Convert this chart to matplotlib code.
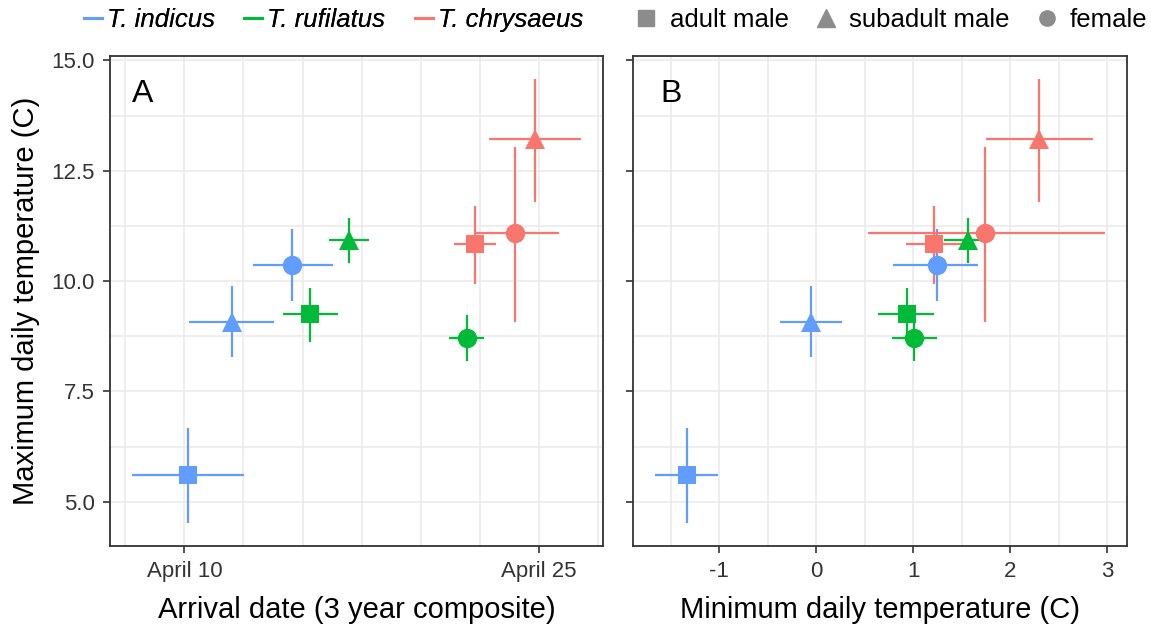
import numpy as np
import matplotlib.pyplot as plt
from matplotlib.lines import Line2D

plt.rcParams['font.family'] = ['Liberation Sans', 'DejaVu Sans']

species = ["T. indicus", "T. rufilatus", "T. chrysaeus"]
species_colors = ["#619CFF", "#00BA38", "#F8766D"]
sexes = ["adult male", "subadult male", "female"]
sex_markers = ["s", "^", "o"]
sex_sizes = [13, 14, 14]

# one row per species x sex (adult male, subadult male, female)
point_species = [0, 0, 0, 1, 1, 1, 2, 2, 2]
point_sex = [0, 1, 2, 0, 1, 2, 0, 1, 2]

# arrival day in April (3 year composite) with interval
arrival = [10.17, 12.02, 14.55, 15.31, 16.95, 21.97, 22.30, 24.83, 23.99]
arrival_lo = [7.77, 10.20, 12.90, 14.17, 16.10, 21.20, 21.42, 22.90, 22.30]
arrival_hi = [12.53, 13.80, 16.30, 16.49, 17.80, 22.68, 23.19, 26.77, 25.85]

# maximum daily temperature (C)
tmax = [5.60, 9.07, 10.36, 9.25, 10.94, 8.72, 10.84, 13.23, 11.08]
tmax_lo = [4.51, 8.28, 9.55, 8.62, 10.41, 8.20, 9.94, 11.79, 9.07]
tmax_hi = [6.68, 9.89, 11.17, 9.84, 11.44, 9.23, 11.71, 14.58, 13.04]

# minimum daily temperature (C)
tmin = [-1.33, -0.06, 1.24, 0.93, 1.56, 1.01, 1.21, 2.29, 1.74]
tmin_lo = [-1.66, -0.38, 0.79, 0.64, 1.32, 0.78, 0.92, 1.75, 0.53]
tmin_hi = [-1.01, 0.26, 1.67, 1.21, 1.78, 1.24, 1.51, 2.85, 2.97]

date_ticks = [10, 25]
date_labels = ["April 10", "April 25"]
temp_ticks = [-1, 0, 1, 2, 3]
y_ticks = [5.0, 7.5, 10.0, 12.5, 15.0]

fig = plt.figure(figsize=(11.51, 6.29), dpi=100)
ax_a = fig.add_axes([0.0956, 0.132, 0.4283, 0.779])
ax_b = fig.add_axes([0.550, 0.132, 0.429, 0.779])


def draw_points(ax, x, x_lo, x_hi):
    for i in range(len(x)):
        c = species_colors[point_species[i]]
        ax.errorbar(x[i], tmax[i],
                    xerr=[[x[i] - x_lo[i]], [x_hi[i] - x[i]]],
                    yerr=[[tmax[i] - tmax_lo[i]], [tmax_hi[i] - tmax[i]]],
                    fmt=sex_markers[point_sex[i]], ms=sex_sizes[point_sex[i]],
                    color=c, ecolor=c, elinewidth=1.6, capsize=0,
                    markeredgewidth=0, zorder=3)


def style_axes(ax, xgrid):
    for g in xgrid:
        ax.axvline(g, color="#EBEBEB", lw=1.2, zorder=0)
    for g in np.arange(3.75, 15.2, 1.25):
        ax.axhline(g, color="#EBEBEB", lw=1.2, zorder=0)
    for s in ax.spines.values():
        s.set_color("#333333")
        s.set_linewidth(1.3)
    ax.tick_params(colors="#333333", labelsize=16, length=5, width=1.2,
                   pad=6, labelcolor="#333333")
    ax.set_ylim(4.0, 15.1)
    ax.set_yticks(y_ticks)


draw_points(ax_a, arrival, arrival_lo, arrival_hi)
draw_points(ax_b, tmin, tmin_lo, tmin_hi)

style_axes(ax_a, np.arange(7.5, 28, 2.5))
ax_a.set_xlim(6.85, 27.72)
ax_a.set_xticks(date_ticks)
ax_a.set_xticklabels(date_labels)
ax_a.set_yticklabels([f"{v:.1f}" for v in y_ticks])
ax_a.set_xlabel("Arrival date (3 year composite)", fontsize=21, labelpad=10)
ax_a.set_ylabel("Maximum daily temperature (C)", fontsize=21, labelpad=8)
ax_a.text(0.045, 0.922, "A", transform=ax_a.transAxes, fontsize=23,
          va="center", ha="left")

style_axes(ax_b, np.arange(-1.5, 3.1, 0.5))
ax_b.set_xlim(-1.89, 3.2)
ax_b.set_xticks(temp_ticks)
ax_b.set_xticklabels([str(t) for t in temp_ticks])
ax_b.set_yticklabels([])
ax_b.set_xlabel("Minimum daily temperature (C)", fontsize=21, labelpad=10)
ax_b.text(0.055, 0.922, "B", transform=ax_b.transAxes, fontsize=23,
          va="center", ha="left")

# legends on top: species colours, then sex shapes
sp_handles = [Line2D([], [], color=c, lw=2.2) for c in species_colors]
leg1 = fig.legend(sp_handles, species, loc="center left",
                  bbox_to_anchor=(0.0526, 0.968), ncol=3, frameon=False,
                  handlelength=0.7, handletextpad=0.2, columnspacing=1.15,
                  prop={"size": 18.5, "style": "italic"})
sex_handles = [Line2D([], [], color="#8C8C8C", marker=m, ls="", ms=s)
               for m, s in zip(sex_markers, [11, 12.5, 11])]
leg2 = fig.legend(sex_handles, sexes, loc="center left",
                  bbox_to_anchor=(0.5326, 0.968), ncol=3, frameon=False,
                  handlelength=0.8, handletextpad=0.5, columnspacing=1.05,
                  prop={"size": 18.5})
fig.add_artist(leg1)

fig.savefig("out.png", dpi=100, facecolor="white")
